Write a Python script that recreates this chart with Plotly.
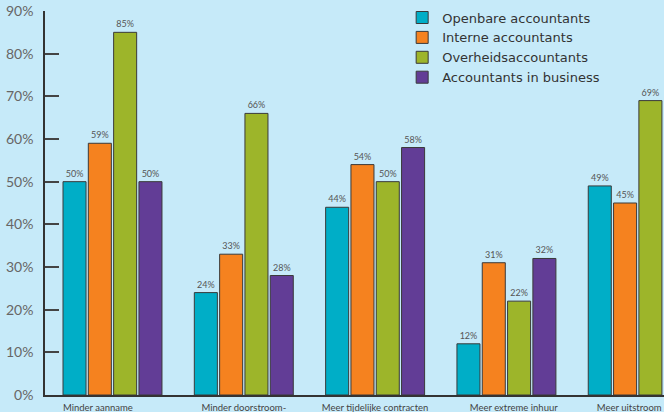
import plotly.graph_objects as go

NB = "\u00a0"
categories = ["Minder aanname", "Minder doorstroom-", "Meer tijdelijke contracten",
              "Meer extreme inhuur", "Meer uitstroom"]
# label padding (non-breaking spaces) to mimic the off-centre wrapped labels
label_pad_left = [0, 0, 0, 6, 0]
label_pad_right = [12, 0, 0, 0, 7]
series_names = ["Openbare accountants", "Interne accountants",
                "Overheidsaccountants", "Accountants in business"]
openbare = [50, 24, 44, 12, 49]
interne = [59, 33, 54, 31, 45]
overheid = [85, 66, 50, 22, 69]
business = [50, 28, 58, 32, None]
y_ticks = [0, 10, 20, 30, 40, 50, 60, 70, 80, 90]

colors = ["#00AEC7", "#F5821F", "#9DB52A", "#623D96"]
values = [openbare, interne, overheid, business]
bg = "#C6EAF9"

tick_text = [NB * l + c + NB * r for c, l, r in zip(categories, label_pad_left, label_pad_right)]

fig = go.Figure()
for name, vals, col in zip(series_names, values, colors):
    fig.add_trace(go.Bar(
        x=list(range(len(categories))), y=vals, name=name,
        text=[("" if v is None else f"{v}%") for v in vals],
        texttemplate="%{text}", textposition="outside",
        marker=dict(color=col, line=dict(color="#3a3a3a", width=1)),
        textfont=dict(size=9, color="#555555", family="Lato"),
        cliponaxis=False,
    ))

fig.update_layout(
    width=664, height=412,
    margin=dict(l=45, r=0, t=11, b=17, autoexpand=False),
    paper_bgcolor=bg, plot_bgcolor=bg,
    barmode="group", bargap=0.229, bargroupgap=0.09,
    font=dict(family="Lato", color="#444444"),
    showlegend=True,
    legend=dict(x=0.577, y=1.022, xanchor="left", yanchor="top",
                bgcolor="rgba(0,0,0,0)",
                font=dict(size=13, color="#333333", family="DejaVu Sans"),
                tracegroupgap=0, itemwidth=30),
    xaxis=dict(
        range=[-0.514, 4.20], tickmode="array",
        tickvals=list(range(len(categories))), ticktext=tick_text,
        showline=True, linecolor="#333333", linewidth=1.5,
        ticks="", showgrid=False, zeroline=False, automargin=False,
        tickfont=dict(size=9.5, color="#444444"),
        ticklabelstandoff=3, ticklabeloverflow="allow",
    ),
    yaxis=dict(
        range=[0, 90], tickmode="array", tickvals=y_ticks,
        ticktext=[f"{v}%" for v in y_ticks],
        showline=True, linecolor="#333333", linewidth=1.5,
        ticks="inside", ticklen=14, tickwidth=1.5, tickcolor="#444444",
        showgrid=False, zeroline=False, automargin=False,
        tickfont=dict(size=14, color="#666666"),
        ticklabelstandoff=7,
    ),
)

fig.write_html("out.html", config={"displayModeBar": False},
               post_script="document.body.style.margin='0';document.body.style.overflow='hidden';")
